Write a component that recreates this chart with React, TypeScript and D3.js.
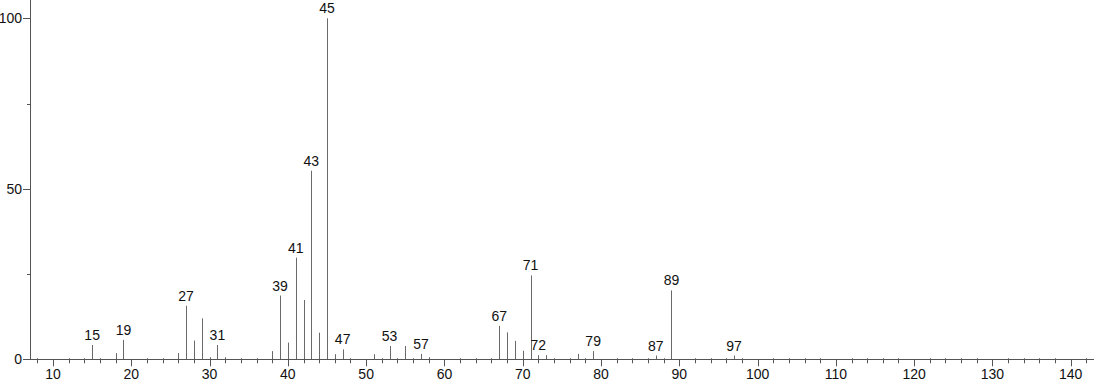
import React from "react";
import * as d3 from "d3";

const mz: number[] = [15, 18, 19, 26, 27, 28, 29, 30, 31, 32, 38, 39, 40, 41, 42, 43, 44, 45, 46, 47, 51, 53, 55, 57, 58, 67, 68, 69, 70, 71, 72, 73, 77, 79, 87, 89, 97];
const intensity: number[] = [4.2, 1.8, 5.7, 1.8, 15.7, 5.5, 12, 0.6, 4.2, 0.6, 2.4, 18.7, 4.9, 29.8, 17.4, 55.3, 7.8, 100, 1.5, 2.9, 1.5, 3.9, 3.9, 1.6, 0.6, 9.8, 7.9, 5.4, 2.5, 24.6, 1.2, 1.2, 1.6, 2.4, 1.1, 20.2, 1.1];
const labeled: number[] = [15, 19, 27, 31, 39, 41, 43, 45, 47, 53, 57, 67, 71, 72, 79, 87, 89, 97];
const xMajorTicks: number[] = [10, 20, 30, 40, 50, 60, 70, 80, 90, 100, 110, 120, 130, 140];
const yMajorTicks: number[] = [0, 50, 100];
const yMinorTicks: number[] = [25, 75];

export default function App() {
  const W = 1094, H = 384;
  const x = d3.scaleLinear().domain([10, 140]).range([53, 1070.7]);
  const y = d3.scaleLinear().domain([0, 100]).range([359.3, 18.3]);
  const x0 = 30, y0 = y(0);
  const minor = d3.range(8, 144, 2).filter((v) => v % 10 !== 0);
  const font = "'Liberation Sans', Arial, sans-serif";
  const axisColor = "#555";
  const peakColor = "#6a6a6a";
  return (
    <svg width={W} height={H} style={{ position: "absolute", left: 0, top: 0, background: "#fff" }} fontFamily={font}>
      {mz.map((m, i) => (
        <line key={"p" + m} x1={Math.round(x(m)) + 0.5} x2={Math.round(x(m)) + 0.5} y1={y0} y2={y(intensity[i])} stroke={peakColor} strokeWidth={1} />
      ))}
      <line x1={x0 + 0.5} x2={x0 + 0.5} y1={0} y2={y0} stroke={axisColor} strokeWidth={1} />
      <line x1={x0} x2={W} y1={Math.round(y0) + 0.5} y2={Math.round(y0) + 0.5} stroke={axisColor} strokeWidth={1} />
      {minor.map((v) => (
        <line key={"mt" + v} x1={Math.round(x(v)) + 0.5} x2={Math.round(x(v)) + 0.5} y1={y0 - 1} y2={y0 + 4} stroke={axisColor} />
      ))}
      {xMajorTicks.map((v) => (
        <g key={"xt" + v}>
          <line x1={Math.round(x(v)) + 0.5} x2={Math.round(x(v)) + 0.5} y1={y0} y2={y0 + 7} stroke={axisColor} />
          <text x={x(v)} y={379} textAnchor="middle" fontSize={14} fill="#111">{v}</text>
        </g>
      ))}
      {yMajorTicks.map((v) => (
        <g key={"yt" + v}>
          <line x1={x0 - 7} x2={x0} y1={Math.round(y(v)) + 0.5} y2={Math.round(y(v)) + 0.5} stroke={axisColor} />
          <text x={x0 - 8} y={y(v) + 5} textAnchor="end" fontSize={14} fill="#111">{v}</text>
        </g>
      ))}
      {yMinorTicks.map((v) => (
        <line key={"ym" + v} x1={x0 - 3} x2={x0} y1={Math.round(y(v)) + 0.5} y2={Math.round(y(v)) + 0.5} stroke={axisColor} />
      ))}
      {labeled.map((m) => {
        const v = intensity[mz.indexOf(m)];
        return (
          <text key={"l" + m} x={x(m)} y={y(v) - 5} textAnchor="middle" fontSize={14} fill="#111">{m}</text>
        );
      })}
    </svg>
  );
}
